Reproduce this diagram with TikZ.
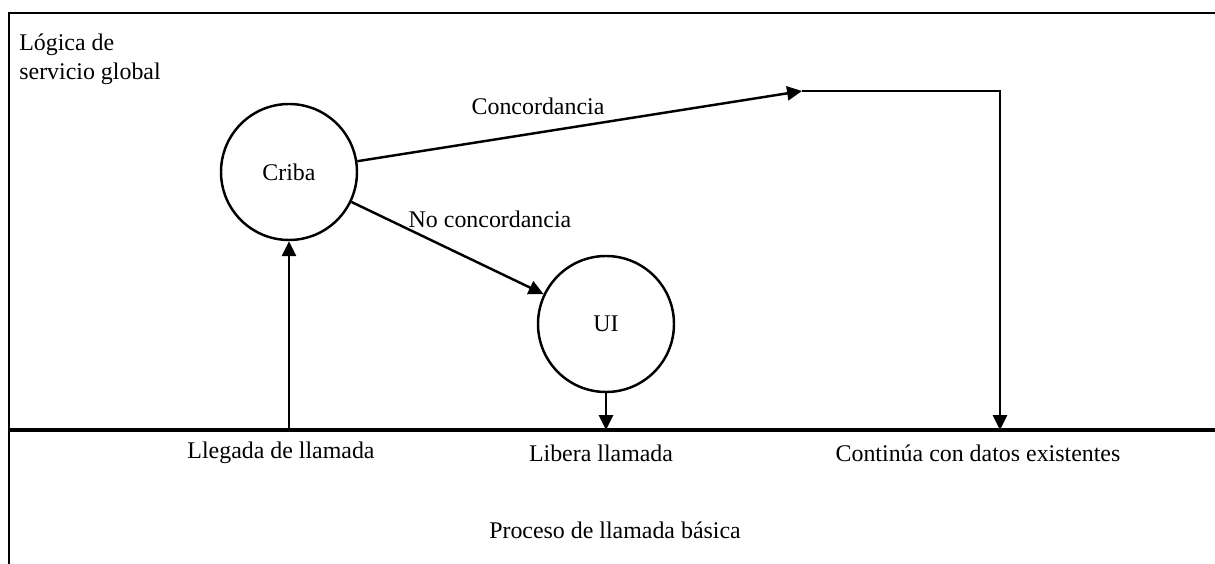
\documentclass[tikz,border=0pt]{standalone}
\usepackage{fontspec}
\setmainfont{Liberation Serif}
\usetikzlibrary{arrows.meta}

\begin{document}
\begin{tikzpicture}[
          % Environment Config
          x=0.02cm, y=-0.02cm,
          font=\fontsize{13.6}{16.2}\selectfont,
          MyArrow/.style={% Style for the signal flow
            -{Triangle[length=8.5pt,width=8pt]},
            line width=1.4pt
          },
          Block/.style={% Style for the processes
            draw,
            circle,
            line width=1.4pt,
            minimum size=136*0.02cm,
            inner sep=0pt
          },
          Label/.style={% Style for the texts
            inner sep=0pt,
            anchor=center
          }
        ]

        % Fix the page size
        \useasboundingbox (0,0) rectangle (1215,564);

        % Frame of the global service logic
        \draw[line width=1.6pt]
        (1215,13)
            -- (9,13)
            -- (9,564);
        \draw[line width=2.3pt]
        (9,430)
            -- (1215,430);

        % Put the processes
        \node[Block](Criba) at (289,172){Criba};
        \node[Block](UI) at (606,324){UI};

        % Some points on the path
        \coordinate (Turn) at (802,91);
        \coordinate (Drop) at (1000,91);
        \coordinate (Llegada) at (289,430);
        \coordinate (Libera) at (606,430);
        \coordinate (Continua) at (1000,430);

        % Draw the arrows
        %===Concordancia===
        \draw[MyArrow]
        (Criba)
            -- (Turn);
        \draw[MyArrow]
        (Turn)
            -- (Drop)
            -- (Continua);

        %===No concordancia===
        \draw[MyArrow]
        (Criba)
            -- (UI);

        %===Llegada / Libera===
        \draw[MyArrow]
        (Llegada)
            -- (Criba.south);
        \draw[MyArrow]
        (UI.south)
            -- (Libera);

        % Texts
        \node[Label](Conc) at (538,106){Concordancia};
        \node[Label](NoConc) at (490,219){No concordancia};
        \node[Label,anchor=north west,align=left](Logica) at (19,34){L\'ogica de\\servicio global};
        \node[Label](LlegadaTxt) at (281,453){Llegada de llamada};
        \node[Label](LiberaTxt) at (601,453){Libera llamada};
        \node[Label](ContinuaTxt) at (978,453){Contin\'ua con datos existentes};
        \node[Label](Proceso) at (615,530){Proceso de llamada b\'asica};

        \end{tikzpicture}
\end{document}
